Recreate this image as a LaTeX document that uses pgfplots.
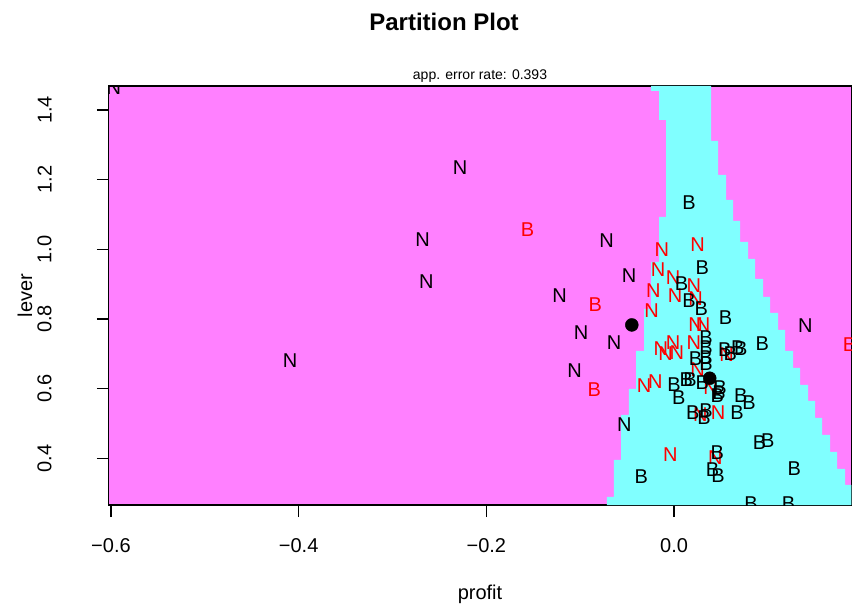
\documentclass[border=0pt]{standalone}
\usepackage{fontspec}
\setmainfont{Liberation Sans}
\usepackage{pgfplots}
\pgfplotsset{compat=1.18}
\definecolor{pinkR}{HTML}{FF80FF}
\definecolor{cyanR}{HTML}{80FFFF}
\newcommand{\fs}[1]{\fontsize{#1}{#1}\selectfont}

\begin{document}
\begin{tikzpicture}[x=1pt,y=1pt]
\useasboundingbox (0,0) rectangle (853,611);
\begin{axis}[
 at={(108.8pt,106pt)}, anchor=south west,
 width=742.6pt, height=419pt, scale only axis,
 xmin=-0.6023, xmax=0.189, ymin=0.266, ymax=1.469,
 axis background/.style={fill=pinkR},
 axis line style={line width=1.2pt},
 xtick={-0.6,-0.4,-0.2,0}, xticklabels={−0.6,−0.4,−0.2,0.0},
 ytick={0.4,0.6,0.8,1.0,1.2,1.4}, yticklabels={0.4,0.6,0.8,1.0,1.2,1.4},
 xtick pos=bottom, ytick pos=left,
 tick align=outside, major tick length=12pt,
 tick style={line width=1.2pt, black},
 ticklabel style={font=\fs{20}, inner sep=0pt},
 xticklabel style={anchor=north, yshift=-21pt},
 yticklabel style={xshift=-45pt, rotate=90, anchor=south},
 clip marker paths=true,
]
% classification region of class B (cyan); the rest is N (pink)
\addplot[fill=cyanR, draw=none] coordinates {
(-0.0245,1.469) (0.0394,1.469) (0.0394,1.3112) (0.0469,1.3112) (0.0469,1.2136) (0.0554,1.2136)
(0.0554,1.1418) (0.0629,1.1418) (0.0629,1.0815) (0.0703,1.0815) (0.0703,1.0212) (0.0789,1.0212)
(0.0789,0.9724) (0.0863,0.9724) (0.0863,0.915) (0.0949,0.915) (0.0949,0.8633) (0.1023,0.8633)
(0.1023,0.8174) (0.1108,0.8174) (0.1108,0.7686) (0.1183,0.7686) (0.1183,0.7083) (0.1268,0.7083)
(0.1268,0.6595) (0.1343,0.6595) (0.1343,0.6107) (0.1428,0.6107) (0.1428,0.5648) (0.1503,0.5648)
(0.1503,0.5159) (0.1577,0.5159) (0.1577,0.4671) (0.1663,0.4671) (0.1663,0.4183) (0.1737,0.4183)
(0.1737,0.3695) (0.1822,0.3695) (0.1822,0.3236) (0.189,0.3236) (0.189,0.266)
(-0.0715,0.266) (-0.0715,0.2891) (-0.064,0.2891) (-0.064,0.3954) (-0.0565,0.3954)
(-0.0565,0.5246) (-0.048,0.5246) (-0.048,0.5992) (-0.0405,0.5992) (-0.0405,0.7083)
(-0.032,0.7083) (-0.032,0.8289) (-0.0245,0.8289) (-0.0245,0.9638) (-0.016,0.9638)
(-0.016,1.093) (-0.0085,1.093) (-0.0085,1.3715) (-0.016,1.3715) (-0.016,1.4548)
(-0.0245,1.4548)
} -- cycle;
% N, correctly classified (black)
\addplot[only marks, black, mark=text, text mark={N}, text mark as node=true,
 text mark style={font=\fs{20}, anchor=center, inner sep=0pt}] coordinates {
(-0.597,1.463) (-0.228,1.234) (-0.268,1.027) (-0.264,0.907) (-0.072,1.025)
(-0.048,0.924) (-0.122,0.866) (-0.099,0.761) (-0.064,0.733) (-0.106,0.652)
(-0.053,0.497) (-0.409,0.681) (0.140,0.780)
};
% B, misclassified (red)
\addplot[only marks, red, mark=text, text mark={B}, text mark as node=true,
 text mark style={font=\fs{20}, anchor=center, inner sep=0pt}] coordinates {
(-0.156,1.056) (-0.084,0.840) (-0.085,0.596) (0.187,0.726)
};
% N, misclassified (red)
\addplot[only marks, red, mark=text, text mark={N}, text mark as node=true,
 text mark style={font=\fs{20}, anchor=center, inner sep=0pt}] coordinates {
(-0.013,0.998) (0.025,1.013) (-0.017,0.942) (-0.001,0.919) (0.021,0.895)
(-0.022,0.881) (0.001,0.866) (-0.024,0.823) (0.023,0.858) (0.023,0.783)
(0.031,0.783) (-0.014,0.715) (-0.001,0.731) (-0.009,0.700) (0.003,0.703)
(0.021,0.733) (0.056,0.697) (-0.032,0.609) (-0.020,0.619) (0.025,0.654)
(0.039,0.602) (0.028,0.525) (0.047,0.530) (-0.004,0.410) (0.044,0.401)
};
% B, correctly classified (black)
\addplot[only marks, black, mark=text, text mark={B}, text mark as node=true,
 text mark style={font=\fs{20}, anchor=center, inner sep=0pt}] coordinates {
(0.016,1.133) (0.030,0.948) (0.008,0.901) (0.016,0.853) (0.029,0.830)
(0.055,0.804) (0.034,0.747) (0.034,0.717) (0.034,0.690) (0.034,0.671)
(0.023,0.685) (0.054,0.711) (0.060,0.700) (0.068,0.718) (0.071,0.714)
(0.094,0.730) (0.000,0.612) (0.013,0.626) (0.017,0.626) (0.030,0.616)
(0.005,0.573) (0.049,0.602) (0.048,0.589) (0.046,0.579) (0.071,0.579)
(0.080,0.559) (0.020,0.532) (0.034,0.536) (0.032,0.517) (0.067,0.532)
(0.091,0.446) (0.100,0.451) (0.046,0.417) (0.041,0.367) (0.047,0.349)
(-0.035,0.347) (0.128,0.370) (0.082,0.271) (0.122,0.271)
};
% class means
\addplot[only marks, black, mark=*, mark size=6.5pt] coordinates {
(-0.045,0.783) (0.038,0.630)
};
\end{axis}
\node[font=\bfseries\fs{24}] at (444,589) {Partition Plot};
\node[font=\fs{14}] at (480,535) {app. error rate: 0.393};
\node[font=\fs{20}] at (480,17) {profit};
\node[font=\fs{20}, rotate=90] at (25,315.5) {lever};
\end{tikzpicture}
\end{document}
